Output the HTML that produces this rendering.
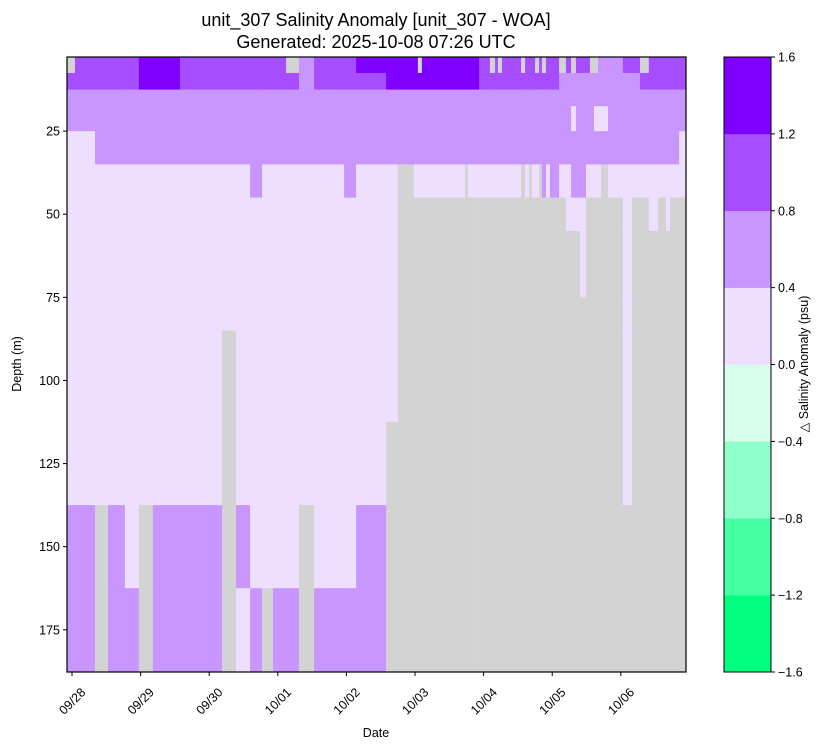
<!DOCTYPE html>
<html><head><meta charset="utf-8"><style>
body{margin:0;background:#fff}
svg{display:block;font-family:"Liberation Sans","DejaVu Sans",sans-serif}
</style></head><body>
<svg id="chart" width="828" height="749" viewBox="0 0 828 749" xmlns="http://www.w3.org/2000/svg">
<rect width="828" height="749" fill="#fff"/>
<text x="376" y="26" font-size="18" text-anchor="middle">unit_307 Salinity Anomaly [unit_307 - WOA]</text>
<text x="376" y="48" font-size="18" text-anchor="middle">Generated: 2025-10-08 07:26 UTC</text>
<g id="cells"></g>
<g id="axes"></g>
<text x="376" y="737" font-size="12.5" text-anchor="middle">Date</text>
<text transform="translate(21,364) rotate(-90)" font-size="12.5" text-anchor="middle">Depth (m)</text>
<g id="cbar"></g>
<text transform="translate(808,364) rotate(-90)" font-size="12.5" text-anchor="middle">△ Salinity Anomaly (psu)</text>
</svg>
<script>
// time edges: hours since 2025-09-28 00:00 UTC
const timeEdges=[-1.75,1.05,8.05,12.6,18.5,23.4,28.3,37.8,52.5,57.4,62.3,66.5,70.3,74.9,79.4,84.7,95.2,99.4,109.9,114.0,119.6,121.0,122.4,137.5,138.5,142.4,146.2,148.0,149.0,150.4,157.1,158.5,159.9,160.9,162.0,163.4,164.4,165.8,167.2,170.4,172.8,174.6,176.3,177.7,179.8,181.2,182.6,184.0,185.1,187.5,192.7,195.9,198.7,201.8,205.0,207.8,209.2,212.4,214.8];
// depth bin edges (m)
const depthEdges=[2.7,7.5,12.5,17.5,25,35,45,55,75,85,112.5,137.5,162.5,187.7];
// representative anomaly (psu) per class; null = no data
const classValues=[null,0.2,0.6,1.0,1.4];
// per-time-column class codes per depth bin (0=no data)
const columns=[
"0322111111122","3322111111122","3322211111100","3322211111122","3322211111112",
"4422211111100","4422211111122","3322211111122","3322211110000","3322211111121",
"3322221111112","3322211111110","3322211111112","0322211111112","2222211111100",
"3322211111112","3322221111112","4322211111122","4422211111000","4422200000000",
"4422210000000","0422210000000","4422210000000","4422200000000","4422210000000",
"3322210000000","0322210000000","3322210000000","0322210000000","3322210000000",
"0322200000000","3322210000000","3322200000000","3322210000000","0322210000000",
"3322200000000","0322220000000","3322210000000","3322220000000","0222210000000",
"3222211000000","0221221000000","3222221000000","3222221100000","3222210000000",
"0222210000000","0221210000000","2221210000000","2221200000000","2222210000000",
"3222211111100","3222210000000","0322210000000","3322211000000","3322210000000",
"3322211000000","3322210000000","3322110000000"];
const ticksDays=[0,1,2,3,4,5,6,7,8];
const tickLabels=["09/28","09/29","09/30","10/01","10/02","10/03","10/04","10/05","10/06"];
const depthTicks=[25,50,75,100,125,150,175];
const cbarBounds=[-1.6,-1.2,-0.8,-0.4,0,0.4,0.8,1.2,1.6];
const cbarColors=["#00ff80","#45ffa3","#8fffcb","#d8ffec","#efdfff","#c995ff","#a64dff","#7f00ff"];

const L=67,R=686,T=57,B=672;
const xS=h=>L+(h-timeEdges[0])/(timeEdges[timeEdges.length-1]-timeEdges[0])*(R-L);
const yS=d=>T+(d-depthEdges[0])/(depthEdges[depthEdges.length-1]-depthEdges[0])*(B-T);
const NS="http://www.w3.org/2000/svg";
function mk(tag,attrs,parent){const e=document.createElementNS(NS,tag);for(const k in attrs)e.setAttribute(k,attrs[k]);parent.appendChild(e);return e;}
function colorFor(v){if(v===null)return "#d3d3d3";for(let i=0;i<cbarColors.length;i++){if(v>=cbarBounds[i]&&v<cbarBounds[i+1])return cbarColors[i];}return cbarColors[cbarColors.length-1];}
const cells=document.getElementById('cells');
columns.forEach((col,ci)=>{
  for(let di=0;di<depthEdges.length-1;di++){
    const v=classValues[+col[di]];
    const x0=xS(timeEdges[ci]),x1=xS(timeEdges[ci+1]),y0=yS(depthEdges[di]),y1=yS(depthEdges[di+1]);
    const r=mk('rect',{x:x0,y:y0,width:x1-x0+0.4,height:y1-y0+0.4,fill:colorFor(v)},cells);
    
    
  }
});
const ax=document.getElementById('axes');
const frame=mk('rect',{x:L,y:T,width:R-L,height:B-T,fill:"none",stroke:"#000","stroke-width":1.2},ax);


ticksDays.forEach((d,i)=>{
  const x=xS(d*24);
  mk('line',{x1:x,y1:B,x2:x,y2:B+4,stroke:"#000"},ax);
  const t=mk('text',{transform:`translate(${x},${B+29}) rotate(-45)`,y:4.5,"font-size":12.5,"text-anchor":"middle"},ax);
  t.textContent=tickLabels[i];
  
  
});
depthTicks.forEach(d=>{
  const y=yS(d);
  mk('line',{x1:L-4,y1:y,x2:L,y2:y,stroke:"#000"},ax);
  const t=mk('text',{x:L-7,y:y+4.5,"font-size":12.5,"text-anchor":"end"},ax);
  t.textContent=d;
  
  
});
const cb=document.getElementById('cbar');
const cL=724,cR=771;
const cy=v=>B-(v-cbarBounds[0])/(cbarBounds[cbarBounds.length-1]-cbarBounds[0])*(B-T);
cbarColors.forEach((c,i)=>{
  const r=mk('rect',{x:cL,y:cy(cbarBounds[i+1]),width:cR-cL,height:cy(cbarBounds[i])-cy(cbarBounds[i+1])+0.3,fill:c},cb);
  
  
});
mk('rect',{x:cL,y:T,width:cR-cL,height:B-T,fill:"none",stroke:"#000","stroke-width":1},cb);
cbarBounds.forEach(v=>{
  const y=cy(v);
  mk('line',{x1:cR,y1:y,x2:cR+4,y2:y,stroke:"#000"},cb);
  const t=mk('text',{x:cR+7,y:y+4.5,"font-size":12.5},cb);
  t.textContent=(v<0?"\u2212":"")+Math.abs(v).toFixed(1);
  
  
});
</script>
</body></html>
